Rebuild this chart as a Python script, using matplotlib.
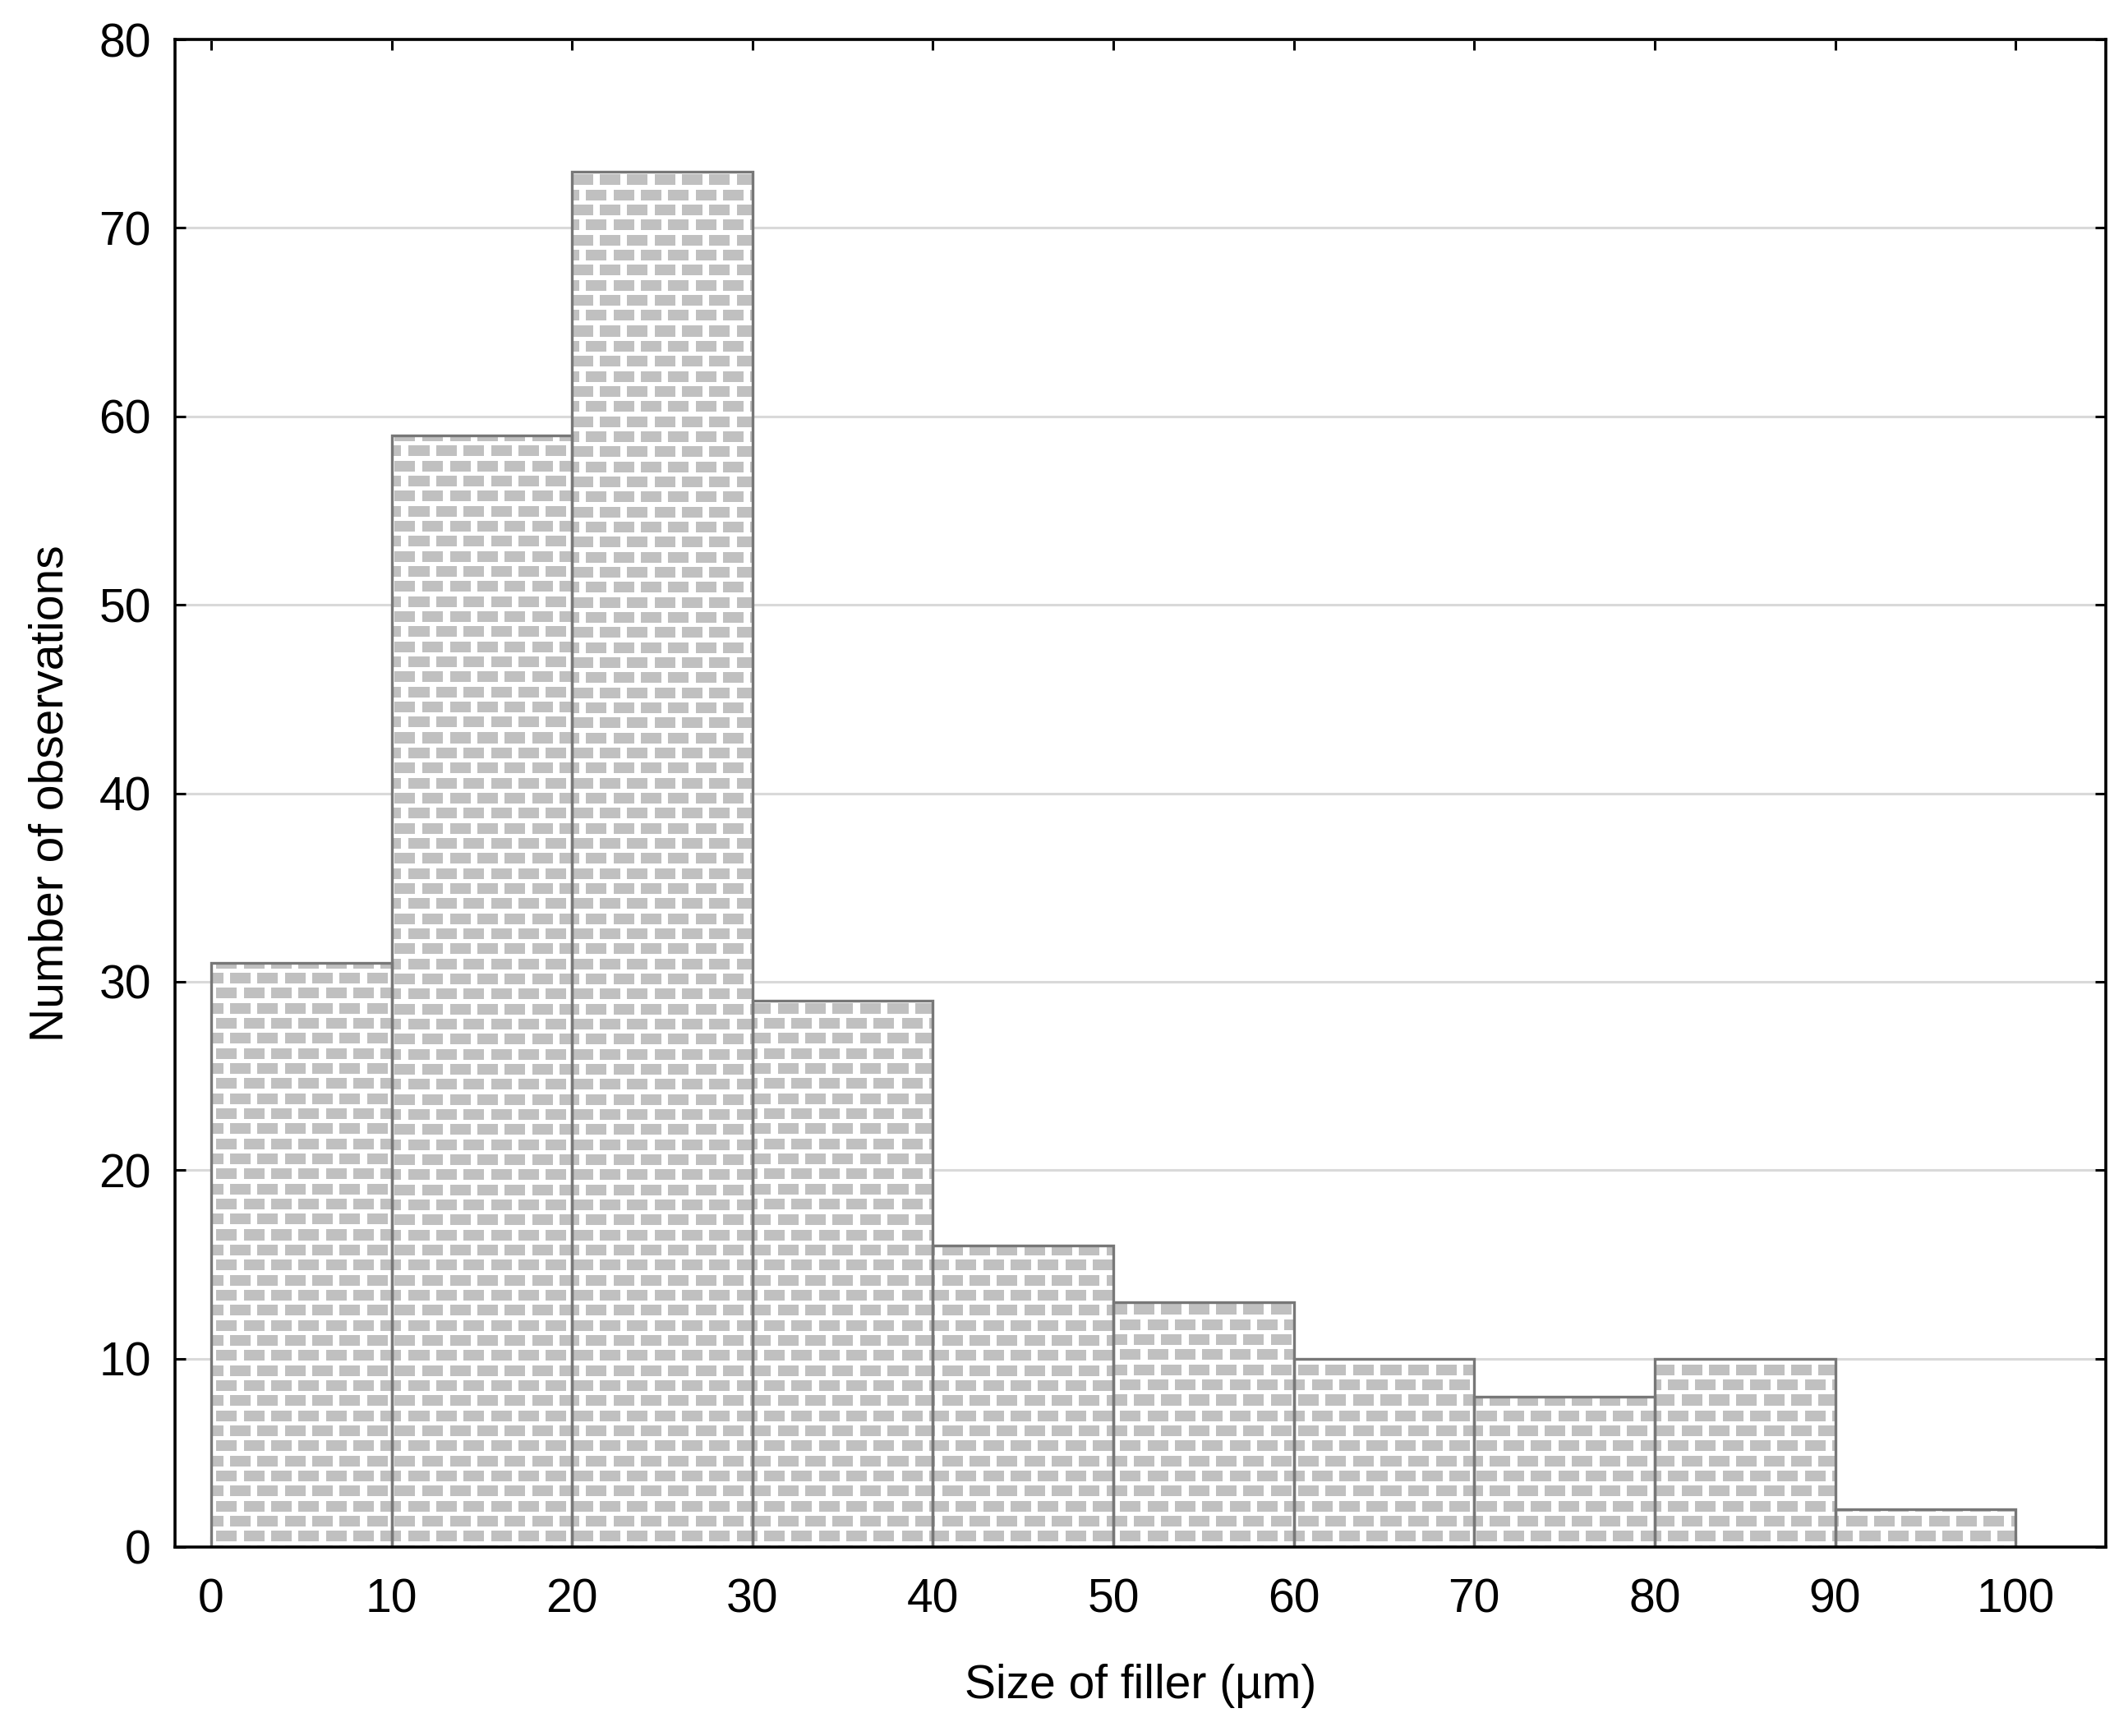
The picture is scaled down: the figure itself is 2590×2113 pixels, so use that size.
import numpy as np
import matplotlib
matplotlib.use("Agg")
import matplotlib.pyplot as plt

plt.rcParams['font.family'] = ['Liberation Sans', 'DejaVu Sans']

# histogram of filler sizes
bin_left = [0, 10, 20, 30, 40, 50, 60, 70, 80, 90]
counts = [31, 59, 73, 29, 16, 13, 10, 8, 10, 2]
bin_width = 10
x_ticks = list(range(0, 101, 10))
y_ticks = list(range(0, 81, 10))

W, H = 2590, 2113
dpi = 100
fig = plt.figure(figsize=(W / dpi, H / dpi), dpi=dpi)
ax = fig.add_axes([213 / W, 1 - 1883 / H, 2350 / W, 1835 / H])

xlim = (-2, 105)
ylim = (0, 80)

# brick texture (grey bricks on white), pixel sized to the axes
aw, ah = 2350, 1835
yy, xx = np.mgrid[0:ah, 0:aw]
row_p, col_p = 18.33, 33.33
row = np.floor(yy / row_p).astype(int)
in_row = (yy % row_p) < 13
shift = (row % 2) * col_p / 2
in_col = ((xx + shift) % col_p) < 25
mask = in_row & in_col
tex = np.ones((ah, aw, 3))
tex[mask] = np.array([192, 192, 192]) / 255.0

bars = ax.bar(bin_left, counts, width=bin_width, align='edge',
              facecolor='none', edgecolor='#777777', linewidth=2.4, zorder=3)
for b in bars:
    im = ax.imshow(tex, extent=(xlim[0], xlim[1], ylim[0], ylim[1]), origin='upper',
                   aspect='auto', interpolation='nearest', zorder=2)
    im.set_clip_path(b)

ax.set_xlim(*xlim)
ax.set_ylim(*ylim)
ax.set_xticks(x_ticks)
ax.set_yticks(y_ticks)
ax.set_axisbelow(True)
ax.yaxis.grid(True, color='#d9d9d9', linewidth=2.2, zorder=0)

ax.tick_params(direction='in', length=9.5, width=2.2, labelsize=41,
               top=True, right=True, colors='black')
ax.tick_params(axis='x', pad=27)
ax.tick_params(axis='y', pad=21)
for s in ax.spines.values():
    s.set_linewidth(2.6)
    s.set_zorder(5)

ax.set_xlabel('Size of filler (µm)', fontsize=41)
ax.set_ylabel('Number of observations', fontsize=41)
ax.xaxis.set_label_coords(0.5, -0.0774)
ax.yaxis.set_label_coords(-0.053, 0.5)

fig.savefig('out.png', dpi=dpi)
